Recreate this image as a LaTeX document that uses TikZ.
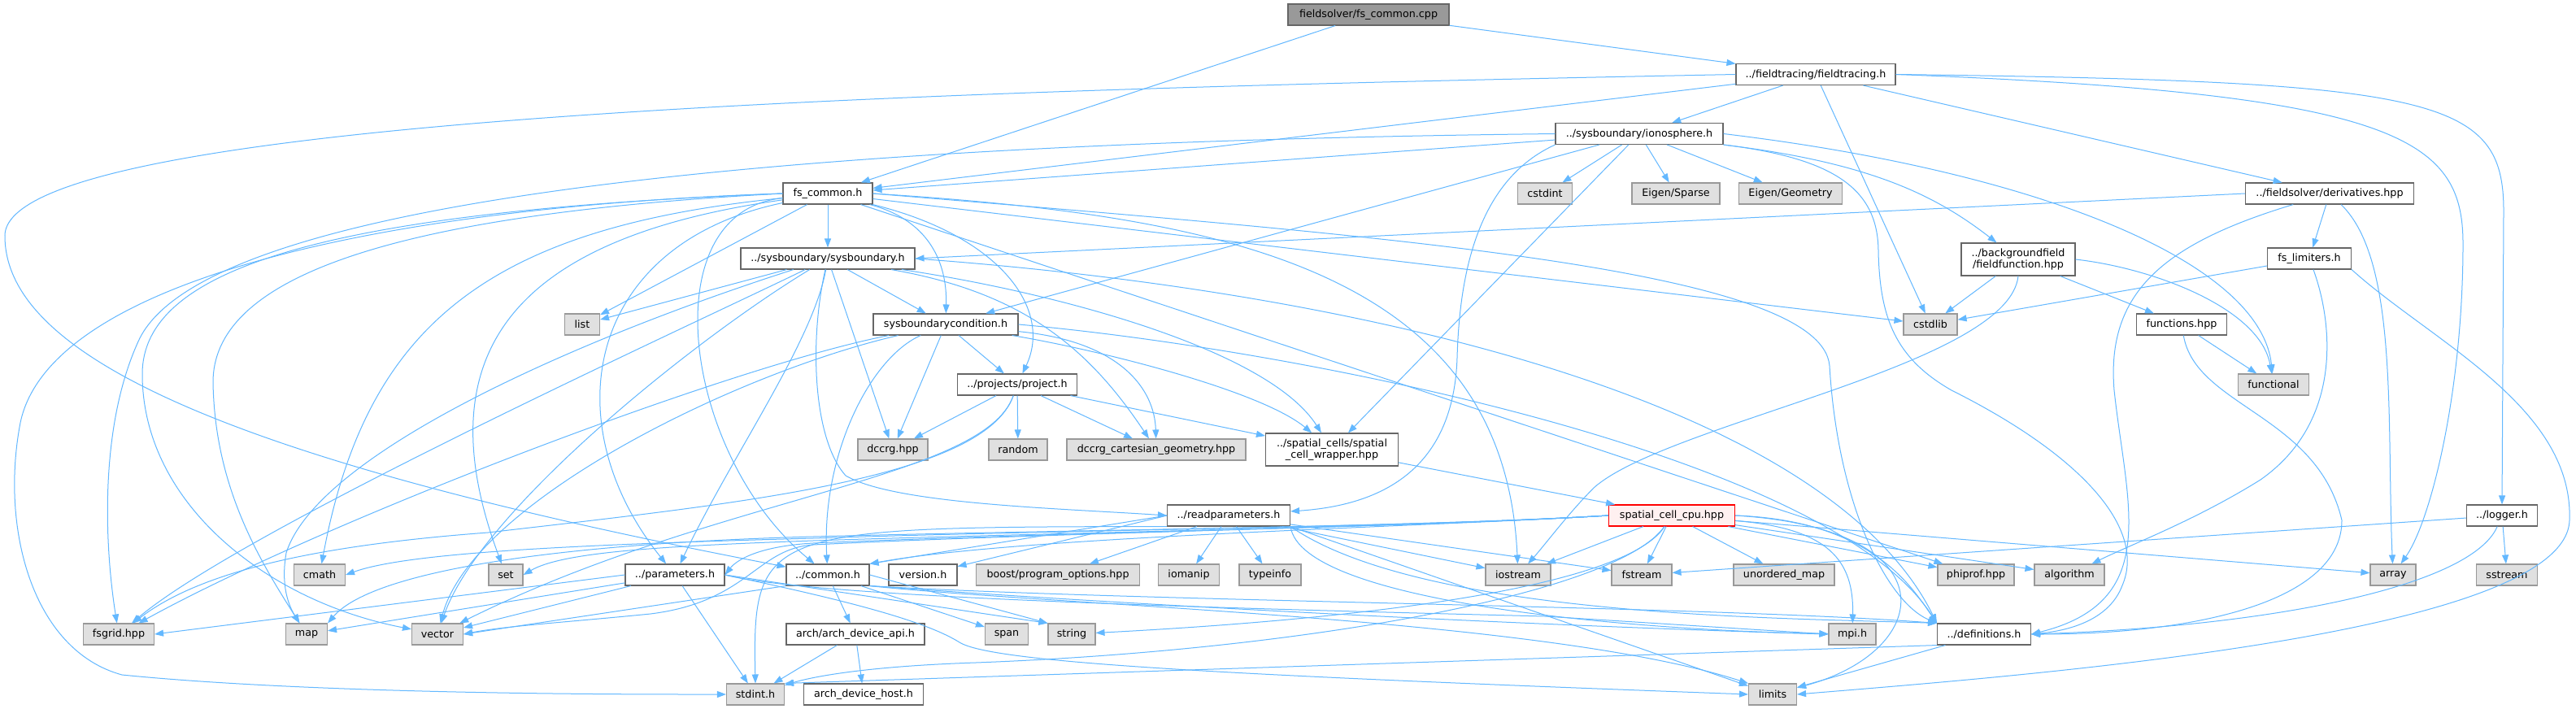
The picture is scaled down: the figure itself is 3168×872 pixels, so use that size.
\documentclass[tikz,border=0pt]{standalone}
\usepackage{fontspec}
\setmainfont{DejaVu Sans}
\usetikzlibrary{arrows.meta}
\definecolor{eblue}{HTML}{63B8FF}
\definecolor{gborder}{HTML}{999999}
\definecolor{gfill}{HTML}{E0E0E0}
\definecolor{wborder}{HTML}{666666}
\definecolor{rootfill}{HTML}{999999}
\definecolor{redfill}{HTML}{FFF0F0}
\definecolor{redborder}{HTML}{FF0000}
\newcommand{\dxf}{\fontsize{12.7}{14.5}\selectfont}
\begin{document}
\begin{tikzpicture}[x=1pt,y=-1pt,
 wn/.style={draw=wborder, fill=white, line width=1.1pt, minimum height=26pt, inner sep=0pt, font=\dxf, text=black},
 gn/.style={wn, draw=gborder, fill=gfill},
 rn/.style={wn, fill=rootfill},
 hn/.style={wn, draw=redborder, fill=redfill},
 ed/.style={draw=eblue, line width=1pt, -{Triangle[length=11pt,width=8pt]}}]
\fill[white] (0,0) rectangle (3168,872);
\useasboundingbox (0,0) rectangle (3168,872);
% nodes
\node[rn, minimum width=198] (cpp) at (1683,18) {fieldsolver/fs\_common.cpp};
\node[wn, minimum width=196] (fth) at (2233,91.5) {../fieldtracing/fieldtracing.h};
\node[wn, minimum width=206] (iono) at (2016,164.5) {../sysboundary/ionosphere.h};
\node[wn, minimum width=110] (fsc) at (1018,238) {fs\_common.h};
\node[gn, minimum width=67] (cstdint) at (1900,238) {cstdint};
\node[gn, minimum width=108] (eigsp) at (2061,238) {Eigen/Sparse};
\node[gn, minimum width=127] (eigge) at (2202,238) {Eigen/Geometry};
\node[wn, minimum width=207] (deriv) at (2865,238) {../fieldsolver/derivatives.hpp};
\node[wn, minimum width=214] (sysb) at (1018,318) {../sysboundary/sysboundary.h};
\node[wn, minimum width=140, minimum height=40, align=center] (ffun) at (2482,319) {../backgroundfield\\/fieldfunction.hpp};
\node[wn, minimum width=103] (lim) at (2840,318) {fs\_limiters.h};
\node[gn, minimum width=43] (list) at (716,399) {list};
\node[wn, minimum width=178] (sbc) at (1163,399) {sysboundarycondition.h};
\node[gn, minimum width=66] (cstdlib) at (2374,399) {cstdlib};
\node[wn, minimum width=111] (funcs) at (2683,399) {functions.hpp};
\node[wn, minimum width=147] (proj) at (1251,473) {../projects/project.h};
\node[gn, minimum width=87] (functional) at (2796,473) {functional};
\node[gn, minimum width=86] (dccrg) at (1098,553) {dccrg.hpp};
\node[gn, minimum width=72] (random) at (1252,553) {random};
\node[gn, minimum width=220] (dcart) at (1422,553) {dccrg\_cartesian\_geometry.hpp};
\node[wn, minimum width=163, minimum height=40, align=center] (scw) at (1638,553) {../spatial\_cells/spatial\\\_cell\_wrapper.hpp};
\node[wn, minimum width=151] (rp) at (1511,634) {../readparameters.h};
\node[hn, minimum width=155] (scc) at (2056,634) {spatial\_cell\_cpu.hpp};
\node[wn, minimum width=87] (logger) at (3077,634) {../logger.h};
\node[gn, minimum width=63] (cmath) at (393,707) {cmath};
\node[gn, minimum width=42] (set) at (622,707) {set};
\node[wn, minimum width=122] (params) at (830,707) {../parameters.h};
\node[wn, minimum width=102] (common) at (1018,707) {../common.h};
\node[wn, minimum width=84] (version) at (1135,707) {version.h};
\node[gn, minimum width=201] (boost) at (1301,707) {boost/program\_options.hpp};
\node[gn, minimum width=75] (iomanip) at (1462,707) {iomanip};
\node[gn, minimum width=76] (typeinfo) at (1562,707) {typeinfo};
\node[gn, minimum width=80] (iostream) at (1867,707) {iostream};
\node[gn, minimum width=74] (fstream) at (2019,707) {fstream};
\node[gn, minimum width=124] (umap) at (2194,707) {unordered\_map};
\node[gn, minimum width=94] (phiprof) at (2430,707) {phiprof.hpp};
\node[gn, minimum width=86] (algorithm) at (2545,707) {algorithm};
\node[gn, minimum width=56] (array) at (2943,707) {array};
\node[gn, minimum width=75] (sstream) at (3083,707) {sstream};
\node[gn, minimum width=87] (fsgrid) at (146,780) {fsgrid.hpp};
\node[gn, minimum width=51] (map) at (377,780) {map};
\node[gn, minimum width=63] (vector) at (538,780) {vector};
\node[wn, minimum width=170] (archapi) at (1052,780) {arch/arch\_device\_api.h};
\node[gn, minimum width=53] (span) at (1238,780) {span};
\node[gn, minimum width=58] (string) at (1318,780) {string};
\node[gn, minimum width=58] (mpi) at (2278,780) {mpi.h};
\node[wn, minimum width=115] (defs) at (2440,780) {../definitions.h};
\node[gn, minimum width=71] (stdint) at (929,854) {stdint.h};
\node[wn, minimum width=147] (archhost) at (1062,854) {arch\_device\_host.h};
\node[gn, minimum width=59] (limits) at (2180,854) {limits};
% root
\draw[ed] (cpp) -- (fsc);
\draw[ed] (cpp) -- (fth);
% fieldtracing
\draw[ed] (fth) -- (fsc);
\draw[ed] (fth) -- (iono);
\draw[ed] (fth) -- (cstdlib);
\draw[ed] (fth) -- (deriv);
\draw[ed] (fth.east) .. controls (3000,100) and (3079,120) .. (3079,260) -- (logger.north);
\draw[ed] (fth.east) .. controls (2950,115) and (3029,170) .. (3029,300) .. controls (3029,480) and (2990,640) .. (array);
\draw[ed] (fth.west) .. controls (1200,110) and (6,140) .. (6,290) .. controls (6,430) and (250,560) .. (common);
% ionosphere
\draw[ed] (iono) -- (fsc);
\draw[ed] (iono.west) .. controls (1000,175) and (250,240) .. (170,420) .. controls (120,530) and (130,680) .. (fsgrid);
\draw[ed] (iono) -- (cstdint);
\draw[ed] (iono) -- (eigsp);
\draw[ed] (iono) -- (eigge);
\draw[ed] (iono) -- (sbc);
\draw[ed] (iono) -- (scw);
\draw[ed] (iono.south west) .. controls (1820,220) and (1795,330) .. (1792,440) .. controls (1788,560) and (1720,620) .. (rp);
\draw[ed] (iono.south east) .. controls (2300,200) and (2380,240) .. (ffun);
\draw[ed] (iono.east) .. controls (2500,210) and (2780,320) .. (functional);
\draw[ed] (iono.south east) .. controls (2260,195) and (2310,235) .. (2310,310) .. controls (2312,390) and (2330,440) .. (2400,480) .. controls (2560,560) and (2640,650) .. (2610,720) .. controls (2595,760) and (2550,775) .. (defs.east);
% fs_common.h
\draw[ed] (fsc.west) .. controls (450,255) and (60,350) .. (25,520) .. controls (0,650) and (40,800) .. (150,830) .. controls (400,855) and (800,854) .. (stdint);
\draw[ed] (fsc.west) .. controls (400,260) and (175,330) .. (175,460) .. controls (175,620) and (330,740) .. (vector);
\draw[ed] (fsc.west) .. controls (450,265) and (262,350) .. (262,470) .. controls (264,600) and (320,690) .. (map);
\draw[ed] (fsc) .. controls (600,280) and (450,400) .. (cmath);
\draw[ed] (fsc) .. controls (650,290) and (515,420) .. (set);
\draw[ed] (fsc) -- (list);
\draw[ed] (fsc) .. controls (720,300) and (680,520) .. (params);
\draw[ed] (fsc) .. controls (800,260) and (840,560) .. (common);
\draw[ed] (fsc) -- (sysb);
\draw[ed] (fsc) .. controls (1140,270) and (1165,320) .. (sbc);
\draw[ed] (fsc) .. controls (1230,290) and (1295,380) .. (proj);
\draw[ed] (fsc) -- (cstdlib);
\draw[ed] (fsc.east) .. controls (1500,265) and (1850,330) .. (iostream);
\draw[ed] (fsc) -- (phiprof);
\draw[ed] (fsc.east) .. controls (1700,290) and (2240,330) .. (2250,450) .. controls (2260,620) and (2320,740) .. (defs.north west);
% sysboundary.h
\draw[ed] (sysb) -- (list);
\draw[ed] (sysb) .. controls (700,420) and (390,560) .. (352,680) .. controls (345,720) and (355,745) .. (map);
\draw[ed] (sysb) .. controls (850,420) and (590,630) .. (vector);
\draw[ed] (sysb) .. controls (850,400) and (300,650) .. (fsgrid);
\draw[ed] (sysb) -- (dccrg);
\draw[ed] (sysb) .. controls (1260,360) and (1340,430) .. (dcart);
\draw[ed] (sysb) .. controls (1300,360) and (1560,430) .. (scw);
\draw[ed] (sysb) .. controls (995,420) and (1000,540) .. (1040,585) .. controls (1100,620) and (1300,625) .. (rp.west);
\draw[ed] (sysb) .. controls (1000,420) and (900,560) .. (params);
\draw[ed] (sysb) -- (sbc);
\draw[ed] (sysb.east) .. controls (1700,360) and (2250,500) .. (defs.north west);
% sysboundarycondition.h
\draw[ed] (sbc) -- (dccrg);
\draw[ed] (sbc) .. controls (1380,420) and (1420,480) .. (dcart);
\draw[ed] (sbc) -- (proj);
\draw[ed] (sbc) .. controls (1350,430) and (1550,480) .. (scw);
\draw[ed] (sbc) .. controls (1070,440) and (1010,560) .. (common);
\draw[ed] (sbc) .. controls (900,460) and (580,620) .. (vector);
\draw[ed] (sbc) .. controls (900,450) and (400,640) .. (fsgrid);
\draw[ed] (sbc.east) .. controls (1600,430) and (2250,560) .. (defs.north west);
% project.h
\draw[ed] (proj) -- (dccrg);
\draw[ed] (proj) -- (random);
\draw[ed] (proj) -- (dcart);
\draw[ed] (proj) -- (scw);
\draw[ed] (proj) .. controls (1210,590) and (880,610) .. (vector);
\draw[ed] (proj) .. controls (1210,590) and (900,620) .. (600,655) .. controls (400,670) and (250,700) .. (fsgrid);
% spatial cell wrapper
\draw[ed] (scw) -- (scc);
% readparameters.h
\draw[ed] (rp) -- (boost);
\draw[ed] (rp) -- (iomanip);
\draw[ed] (rp) -- (typeinfo);
\draw[ed] (rp.west) -- (version);
\draw[ed] (rp.west) -- (common.north east);
\draw[ed] (rp.south west) .. controls (940,648) and (925,650) .. (stdint.north);
\draw[ed] (rp) -- (iostream);
\draw[ed] (rp) -- (fstream);
\draw[ed] (rp.south east) -- (limits);
\draw[ed] (rp.south east) .. controls (1600,740) and (2000,775) .. (mpi);
\draw[ed] (rp.south east) .. controls (1750,760) and (2200,760) .. (defs.north west);
% spatial_cell_cpu.hpp
\draw[ed] (scc) -- (iostream);
\draw[ed] (scc) -- (fstream);
\draw[ed] (scc) -- (umap);
\draw[ed] (scc) .. controls (2250,650) and (2280,690) .. (mpi);
\draw[ed] (scc.east) .. controls (2400,650) and (2380,800) .. (limits);
\draw[ed] (scc.east) .. controls (2300,640) and (2350,720) .. (defs.north west);
\draw[ed] (scc) -- (phiprof);
\draw[ed] (scc) -- (algorithm);
\draw[ed] (scc) -- (array);
\draw[ed] (scc) .. controls (2000,720) and (1700,760) .. (string);
\draw[ed] (scc) .. controls (1990,730) and (1600,800) .. (1200,815) .. controls (1050,820) and (990,835) .. (stdint);
\draw[ed] (scc.west) .. controls (1750,648) and (1300,655) .. (1000,668) .. controls (930,672) and (905,690) .. (params.east);
\draw[ed] (scc.west) .. controls (1750,648) and (1250,660) .. (common.north east);
\draw[ed] (scc.west) .. controls (1750,648) and (1300,655) .. (1000,665) .. controls (800,672) and (690,680) .. (set.east);
\draw[ed] (scc.west) .. controls (1750,648) and (1300,652) .. (1000,662) .. controls (700,670) and (500,680) .. (cmath.east);
\draw[ed] (scc.west) .. controls (1750,648) and (1300,652) .. (1000,660) .. controls (700,668) and (460,700) .. (map.north east);
\draw[ed] (scc.west) .. controls (1750,648) and (1300,655) .. (1000,670) .. controls (930,675) and (920,740) .. (800,755) .. controls (700,765) and (620,770) .. (vector.east);
% parameters.h
\draw[ed] (params) -- (vector);
\draw[ed] (params) -- (map);
\draw[ed] (params.west) -- (fsgrid.east);
\draw[ed] (params) -- (stdint);
\draw[ed] (params.east) -- (string.north west);
\draw[ed] (params.east) .. controls (1050,740) and (1140,765) .. (1180,790) .. controls (1220,815) and (1500,830) .. (limits.west);
\draw[ed] (params.east) .. controls (1000,735) and (1500,748) .. (1900,758) -- (mpi.west);
% common.h
\draw[ed] (common) -- (archapi);
\draw[ed] (common) -- (span);
\draw[ed] (common.east) -- (string.north west);
\draw[ed] (common.south west) -- (vector.east);
\draw[ed] (common.south east) .. controls (1300,745) and (1900,760) .. (limits.north west);
\draw[ed] (common.south east) .. controls (1400,740) and (2100,745) .. (defs.north west);
\draw[ed] (common.south east) .. controls (1400,745) and (1900,770) .. (mpi.west);
% arch
\draw[ed] (archapi) -- (stdint);
\draw[ed] (archapi) -- (archhost);
% definitions.h
\draw[ed] (defs.south west) -- (stdint.north east);
\draw[ed] (defs) -- (limits);
% logger.h
\draw[ed] (logger) -- (fstream);
\draw[ed] (logger) -- (sstream);
\draw[ed] (logger) .. controls (3040,720) and (2800,770) .. (defs.east);
% derivatives.hpp
\draw[ed] (deriv.west) -- (sysb.east);
\draw[ed] (deriv) -- (lim);
\draw[ed] (deriv) .. controls (2660,300) and (2590,360) .. (2600,480) .. controls (2615,620) and (2660,740) .. (defs.east);
\draw[ed] (deriv) .. controls (2950,320) and (2935,520) .. (array);
% fs_limiters.h
\draw[ed] (lim) -- (cstdlib);
\draw[ed] (lim) .. controls (2870,400) and (2880,520) .. (2780,590) .. controls (2700,640) and (2620,670) .. (algorithm);
\draw[ed] (lim.south east) .. controls (2990,420) and (3165,500) .. (3160,640) .. controls (3155,780) and (2500,830) .. (limits.east);
% fieldfunction.hpp
\draw[ed] (ffun) -- (cstdlib);
\draw[ed] (ffun) -- (funcs);
\draw[ed] (ffun.east) .. controls (2650,330) and (2780,380) .. (functional);
\draw[ed] (ffun.south) .. controls (2470,450) and (2050,520) .. (1960,600) .. controls (1930,630) and (1900,670) .. (iostream);
% functions.hpp
\draw[ed] (funcs) -- (functional);
\draw[ed] (funcs) .. controls (2700,500) and (2850,510) .. (2880,640) .. controls (2880,740) and (2700,780) .. (defs.east);
\end{tikzpicture}
\end{document}
